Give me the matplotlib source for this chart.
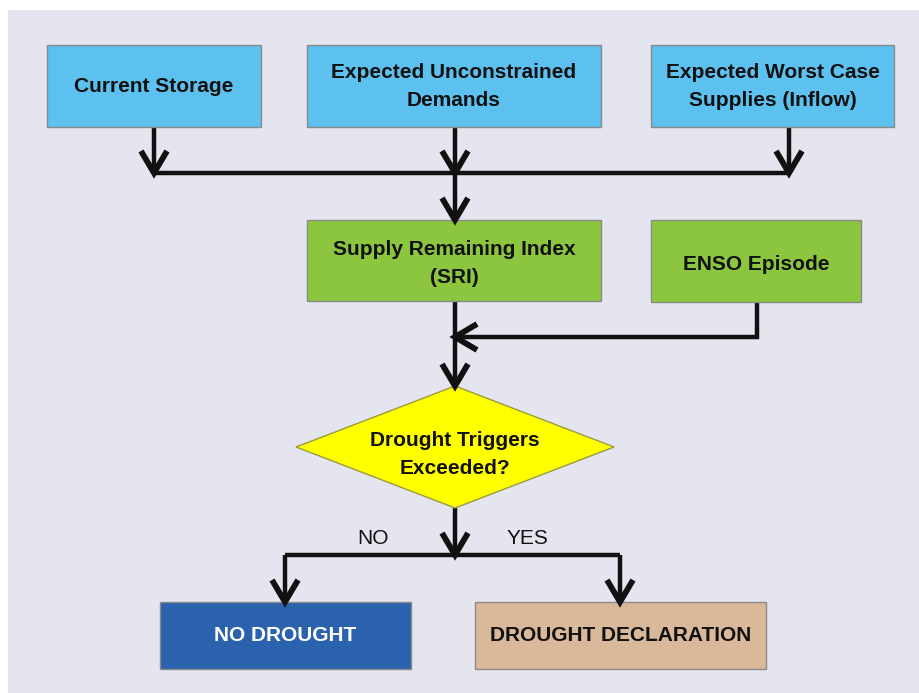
import matplotlib.pyplot as plt
from matplotlib.patches import Rectangle, Polygon

# flowchart content
input_labels = ["Current Storage", "Expected Unconstrained\nDemands", "Expected Worst Case\nSupplies (Inflow)"]
index_labels = ["Supply Remaining Index\n(SRI)", "ENSO Episode"]
decision_label = "Drought Triggers\nExceeded?"
branch_labels = ["NO", "YES"]
outcome_labels = ["NO DROUGHT", "DROUGHT DECLARATION"]

# layout in pixels (x0, y0, x1, y1), y grows downwards
input_boxes = [(47, 45, 261, 127), (307, 45, 601, 127), (651, 45, 894, 127)]
index_boxes = [(307, 220, 601, 301), (651, 220, 861, 302)]
diamond = (455, 447, 159, 61)  # cx, cy, half width, half height
outcome_boxes = [(160, 602, 411, 669), (475, 602, 766, 669)]

input_color = "#5cc1ee"
index_color = "#8cc63f"
outcome_colors = ["#2b62ad", "#d9b999"]
outcome_text = ["white", "#111111"]

FONT = ["Liberation Sans", "DejaVu Sans"]
LW = 3.2

fig = plt.figure(figsize=(9.2, 6.93), dpi=100)
ax = fig.add_axes([0, 0, 1, 1])
ax.set_xlim(0, 920)
ax.set_ylim(693, 0)
ax.axis("off")
fig.patch.set_facecolor("white")
ax.add_patch(Rectangle((8, 10), 920, 700, facecolor="#e4e5ee", edgecolor="none"))


def box(b, color, label, tcolor="#111111", size=15, dy=0):
    x0, y0, x1, y1 = b
    ax.add_patch(Rectangle((x0, y0), x1 - x0, y1 - y0, facecolor=color,
                           edgecolor="#8a8a8a", linewidth=1.0, zorder=2))
    ax.text((x0 + x1) / 2, (y0 + y1) / 2 + dy, label, ha="center", va="center",
            fontsize=15, fontweight="bold", color=tcolor, family=FONT,
            linespacing=1.6, zorder=3)


def line(xs, ys):
    ax.plot(xs, ys, color="#111111", linewidth=LW, solid_capstyle="butt",
            solid_joinstyle="miter", zorder=1)


def head(x, y, d="down"):
    if d == "down":
        xs, ys = [x - 13, x, x + 13], [y - 22, y, y - 22]
    else:
        xs, ys = [x + 22, x, x + 22], [y - 13, y, y + 13]
    ax.plot(xs, ys, color="#111111", linewidth=LW + 1.0, solid_joinstyle="miter",
            solid_capstyle="butt", zorder=4)


for b, lab in zip(input_boxes, input_labels):
    box(b, input_color, lab, dy=1)
for b, lab in zip(index_boxes, index_labels):
    box(b, index_color, lab, dy=3)
for b, lab, c, tc in zip(outcome_boxes, outcome_labels, outcome_colors, outcome_text):
    box(b, c, lab, tc, dy=0)

cx, cy, hw, hh = diamond
ax.add_patch(Polygon([(cx, cy - hh), (cx + hw, cy), (cx, cy + hh), (cx - hw, cy)],
                     closed=True, facecolor="#ffff00", edgecolor="#9a9a40",
                     linewidth=1.0, zorder=2))
ax.text(cx, cy + 8, decision_label, ha="center", va="center", fontsize=15,
        fontweight="bold", color="#111111", family=FONT, linespacing=1.6, zorder=3)

# inputs merge into SRI
join_y = 173
xs_in = [154, 455, 789]
for x in xs_in:
    line([x, x], [127, join_y])
    head(x, join_y)
line([xs_in[0], xs_in[2]], [join_y, join_y])
line([455, 455], [join_y, 220])
head(455, 220)

# SRI + ENSO into decision
line([455, 455], [301, cy - hh])
head(455, cy - hh)
line([757, 757, 455], [302, 337, 337])
head(455, 337, "left")

# decision branches
split_y = 555
line([455, 455], [cy + hh, split_y])
head(455, split_y)
line([285, 620], [split_y, split_y])
for x in [285, 620]:
    line([x, x], [split_y, 602])
    head(x, 602)
ax.text(373, 538, branch_labels[0], ha="center", va="center", fontsize=15,
        color="#111111", family=FONT)
ax.text(527, 538, branch_labels[1], ha="center", va="center", fontsize=15,
        color="#111111", family=FONT)

fig.savefig("out.png", dpi=100)
